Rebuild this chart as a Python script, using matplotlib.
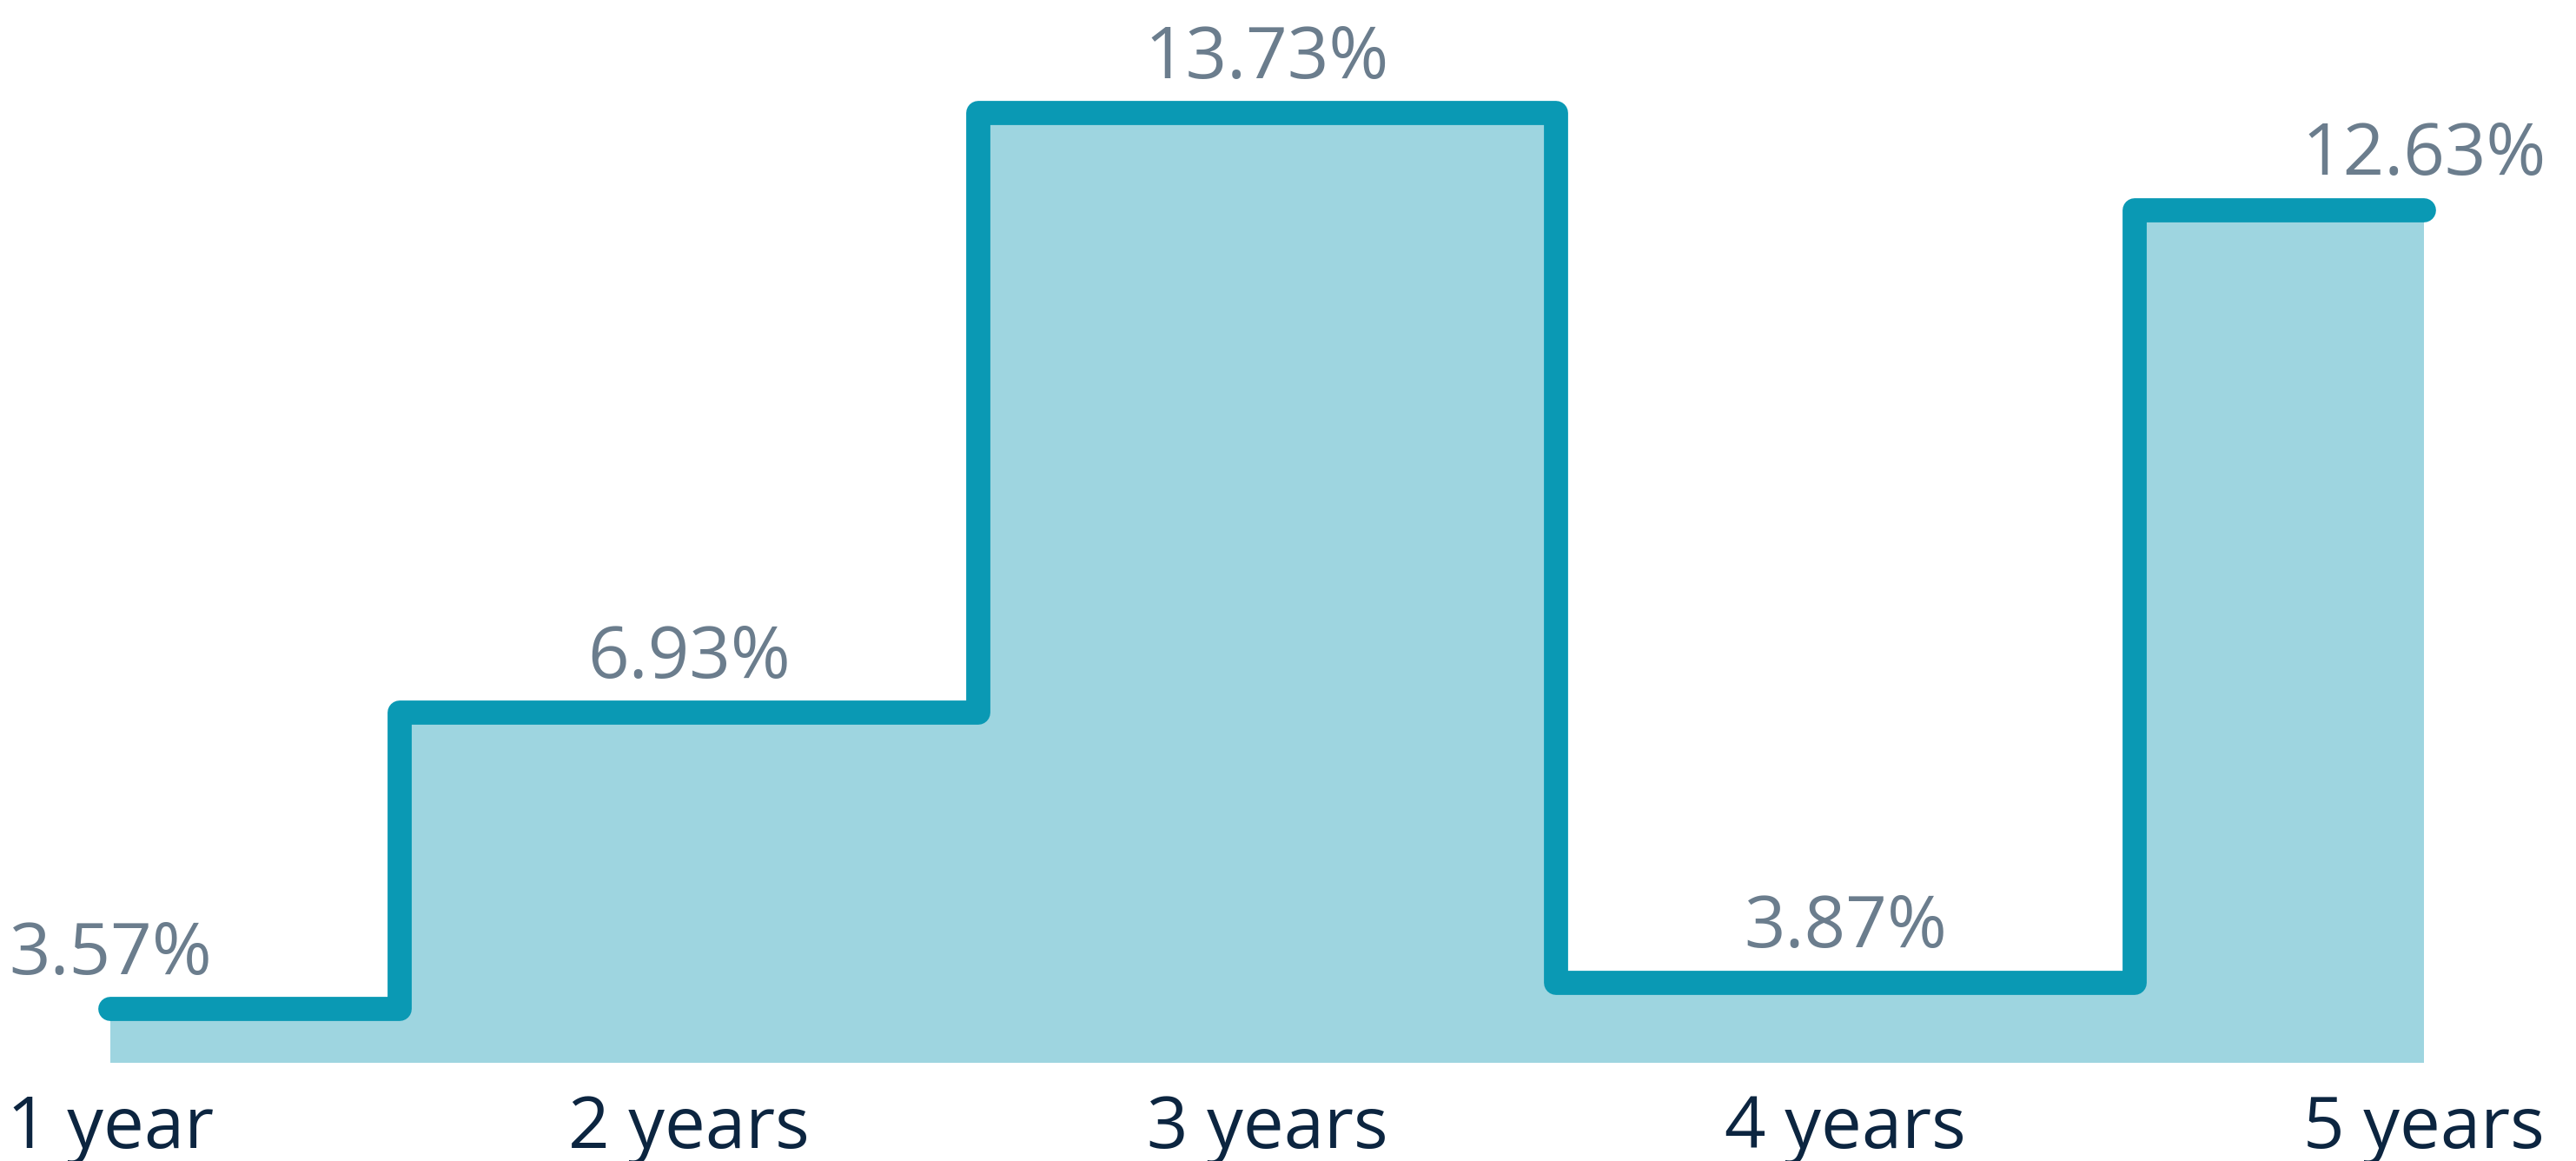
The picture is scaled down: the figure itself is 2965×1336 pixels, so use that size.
import matplotlib
matplotlib.use('Agg')
import matplotlib.pyplot as plt

# data
periods = ['1 year', '2 years', '3 years', '4 years', '5 years']
returns = [3.57, 6.93, 13.73, 3.87, 12.63]
value_labels = ['3.57%', '6.93%', '13.73%', '3.87%', '12.63%']

line_color = '#0a99b4'
fill_color = '#9ed5e0'
value_color = '#6b7d8d'
label_color = '#0c2540'

plt.rcParams['font.family'] = ['Open Sans', 'DejaVu Sans']

W, H = 2965, 1336
fig = plt.figure(figsize=(W / 100, H / 100), dpi=100)
ax = fig.add_axes([127 / W, 113 / H, (2790 - 127) / W, 1223 / H])

x = list(range(len(periods)))
ybottom = 2.96
ax.fill_between(x, returns, ybottom, step='mid', color=fill_color, linewidth=0)
ax.plot(x, returns, drawstyle='steps-mid', color=line_color, linewidth=20,
        solid_capstyle='round', solid_joinstyle='round', clip_on=False)

for xi, v, lab in zip(x, returns, value_labels):
    ax.annotate(lab, xy=(xi, v), xytext=(0, 29), textcoords='offset points',
                ha='center', va='baseline', fontsize=60, color=value_color,
                annotation_clip=False)

for xi, lab in zip(x, periods):
    ax.annotate(lab, xy=(xi, ybottom), xytext=(0, -70.5), textcoords='offset points',
                ha='center', va='baseline', fontsize=60, color=label_color,
                annotation_clip=False)

ax.set_xlim(0, 4)
ax.set_ylim(ybottom, 15.01)
ax.axis('off')

fig.savefig('out.png', dpi=100)
